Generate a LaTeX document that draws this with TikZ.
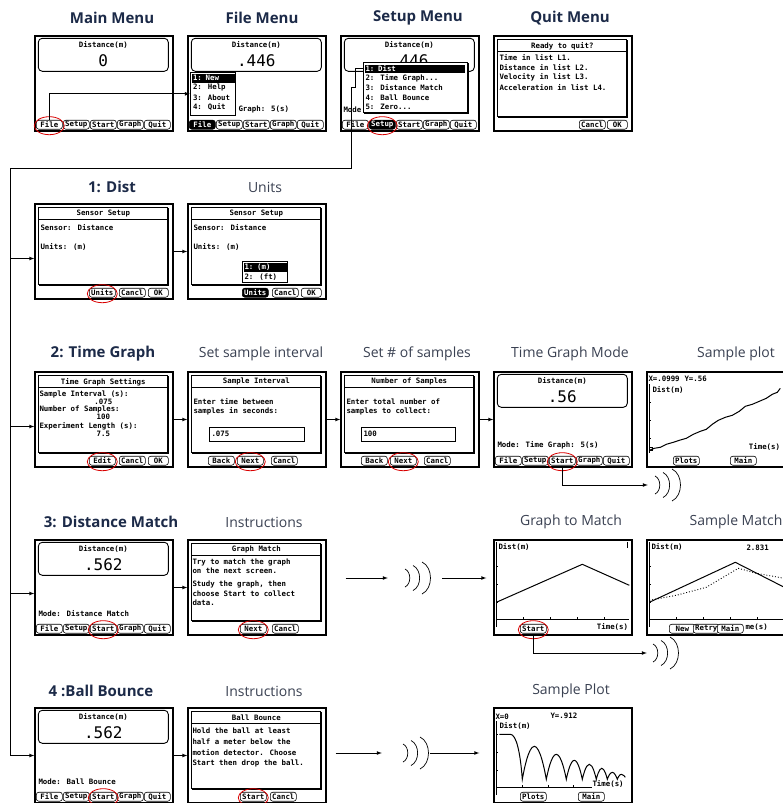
\documentclass[tikz,border=0pt]{standalone}
\usepackage{fontspec}
\setmainfont{Open Sans}
\newfontfamily\calcfont{DejaVu Sans Mono}
\usetikzlibrary{calc}
\definecolor{headblue}{HTML}{1C2A48}
\definecolor{headgray}{HTML}{3A4152}

% display box with the big reading
\newcommand{\readout}[2]{%
  \begin{scope}[shift={(#1.north west)}]
    \draw[panel,rounded corners=4pt] (4,3) rectangle (134,36);
    \node[lcd] (#1cap) at (69,10) {Distance(m)};
    \node[bignum] (#1val) at (69,25) {#2};
  \end{scope}}
% dialog box with a title bar
\newcommand{\dialog}[3]{%
  \begin{scope}[shift={(#1.north west)}]
    \draw[line width=1.8pt] (134,5) -- (134,#3+1) -- (5,#3+1);
    \draw[panel] (4,4) rectangle (133,#3);
    \draw[panel] (4,16) -- (133,16);
    \node[lcd] (#1ttl) at (69,10.5) {#2};
  \end{scope}}
% row of soft keys at the bottom of a screen
\newcommand{\softkeys}[2]{%
  \begin{scope}[shift={(#1.south west)}]
    \foreach \kx/\kt/\ks [count=\ki] in {#2}
      \node[\ks] (#1k\ki) at (\kx,-7) {\kt};
  \end{scope}}
% sound waves
\newcommand{\waves}[1]{%
  \foreach \wx/\wh in {-12/9,-4/12.5,5/16}
    \draw[line width=0.7pt] ([shift={(\wx,-\wh)}]#1.center) to[bend left=65] ([shift={(\wx,\wh)}]#1.center);}

\begin{document}
\begin{tikzpicture}[x=1pt,y=-1pt,node distance=153pt,>=latex]
\tikzstyle{screen}=[draw,line width=1.4pt,minimum width=138pt,minimum height=95pt,inner sep=0pt,fill=white]
\tikzstyle{heading}=[font=\bfseries\fontsize{15}{17}\selectfont,text=headblue]
\tikzstyle{subhead}=[font=\fontsize{14}{16}\selectfont,text=headgray]
\tikzstyle{lcd}=[font=\calcfont\bfseries\fontsize{7.4}{8}\selectfont,inner sep=0pt]
\tikzstyle{bignum}=[font=\calcfont\fontsize{16}{18}\selectfont,inner sep=0pt]
\tikzstyle{softkey}=[lcd,draw,line width=0.6pt,rounded corners=2.5pt,fill=white,minimum width=26pt,minimum height=9pt]
\tikzstyle{keyon}=[softkey,fill=black,text=white]
\tikzstyle{shortkey}=[softkey,minimum width=20pt]
\tikzstyle{panel}=[line width=0.9pt]
\tikzstyle{popup}=[draw,line width=0.9pt,fill=white,inner sep=0pt]
\tikzstyle{pick}=[lcd,fill=black,text=white,anchor=west,inner xsep=1pt,minimum height=8.5pt]
\tikzstyle{ring}=[red!85!black,line width=0.8pt]
\tikzstyle{link}=[->,line width=0.7pt]
\tikzstyle{wave}=[minimum width=30pt,minimum height=34pt,inner sep=0pt]
\tikzstyle{axisline}=[line width=0.8pt]
\tikzstyle{trace}=[line width=1pt]
\path[use as bounding box,fill=white] (0,0) rectangle (783,803);

%First Row
\node[screen] (s11) at (104,83.5) {};
\node[screen,right of=s11] (s12) {};
\node[screen,right of=s12] (s13) {};
\node[screen,right of=s13] (s14) {};
%Second Row
\node[screen,node distance=168pt,below of=s11] (s21) {};
\node[screen,right of=s21] (s22) {};
%Third Row
\node[screen,node distance=168pt,below of=s21] (s31) {};
\node[screen,right of=s31] (s32) {};
\node[screen,right of=s32] (s33) {};
\node[screen,right of=s33] (s34) {};
\node[screen,right of=s34] (s35) {};
%Fourth Row
\node[screen,node distance=168pt,below of=s31] (s41) {};
\node[screen,right of=s41] (s42) {};
\node[screen,node distance=306pt,right of=s42] (s44) {};
\node[screen,right of=s44] (s45) {};
%Fifth Row
\node[screen,node distance=168pt,below of=s41] (s51) {};
\node[screen,right of=s51] (s52) {};
\node[screen,node distance=306pt,right of=s52] (s54) {};

%Titles
\node[heading] (t11) at (112,18) {Main Menu};
\node[heading] (t12) at (262,18) {File Menu};
\node[heading] (t13) at (418,18) {Setup Menu};
\node[heading] (t14) at (570,18) {Quit Menu};
\node[heading] (t21) at (112,187) {1: Dist};
\node[subhead] (t22) at (265,187) {Units};
\node[heading] (t31) at (103,354) {2: Time Graph};
\node[subhead] (t32) at (261,354) {Set sample interval};
\node[subhead] (t33) at (417,354) {Set \# of samples};
\node[subhead] (t34) at (570,354) {Time Graph Mode};
\node[subhead] (t35) at (736,354) {Sample plot};
\node[heading] (t41) at (111,522) {3: Distance Match};
\node[subhead] (t42) at (264,522) {Instructions};
\node[subhead] (t44) at (571,522) {Graph to Match};
\node[subhead] (t45) at (736,522) {Sample Match};
\node[heading] (t51) at (101,691) {4 :Ball Bounce};
\node[subhead] (t52) at (264,691) {Instructions};
\node[subhead] (t54) at (571,691) {Sample Plot};

%Main Menu
\readout{s11}{0}
\softkeys{s11}{15/File/softkey,42/Setup/softkey,69/Start/softkey,96/Graph/softkey,123/Quit/softkey}
\draw[ring] ($(s11k1)+(0,1)$) ellipse [x radius=15,y radius=9];

%File Menu
\readout{s12}{.446}
\begin{scope}[shift={(s12.north west)}]
  \node[lcd,anchor=west] (s12mode) at (51,74) {Graph: 5(s)};
  \node[popup,minimum width=45pt,minimum height=43pt] (s12menu) at (25.5,58.5) {};
  \node[pick,text width=41pt] (s12i1) at (4.5,43) {1: New};
  \node[lcd,anchor=west] (s12i2) at (5.5,52.5) {2: Help};
  \node[lcd,anchor=west] (s12i3) at (5.5,62) {3: About};
  \node[lcd,anchor=west] (s12i4) at (5.5,71.5) {4: Quit};
\end{scope}
\softkeys{s12}{15/File/keyon,42/Setup/softkey,69/Start/softkey,96/Graph/softkey,123/Quit/softkey}
\draw[link] (s11k1.north) |- (s12menu.west);

%Setup Menu
\readout{s13}{.446}
\begin{scope}[shift={(s13.north west)}]
  \node[lcd,anchor=west] (s13mode) at (3,74) {Mode};
  \draw[line width=1.8pt] (128,28) -- (128,78) -- (24,78);
  \node[popup,minimum width=104pt,minimum height=50pt] (s13menu) at (75,52) {};
  \node[pick,text width=98pt] (s13i1) at (24,33.5) {1: Dist};
  \node[lcd,anchor=west] (s13i2) at (25,43) {2: Time Graph...};
  \node[lcd,anchor=west] (s13i3) at (25,52.5) {3: Distance Match};
  \node[lcd,anchor=west] (s13i4) at (25,62) {4: Ball Bounce};
  \node[lcd,anchor=west] (s13i5) at (25,71.5) {5: Zero...};
\end{scope}
\softkeys{s13}{15/File/softkey,42/Setup/keyon,69/Start/softkey,96/Graph/softkey,123/Quit/softkey}
\draw[ring] ($(s13k2)+(0,1)$) ellipse [x radius=15,y radius=9];

%Quit Menu
\dialog{s14}{Ready to quit?}{81}
\begin{scope}[shift={(s14.north west)}]
  \node[lcd,anchor=west] (s14l1) at (6,22) {Time in list L1.};
  \node[lcd,anchor=west] (s14l2) at (6,32) {Distance in list L2.};
  \node[lcd,anchor=west] (s14l3) at (6,42) {Velocity in list L3.};
  \node[lcd,anchor=west] (s14l4) at (6,52) {Acceleration in list L4.};
\end{scope}
\softkeys{s14}{99/Cancl/softkey,124/OK/shortkey}

%Setup bus to the rows
\coordinate (bus) at (10,168);
\coordinate (in2) at ([yshift=-7pt]s21.west);
\coordinate (in3) at ([yshift=-7pt]s31.west);
\coordinate (in4) at ([yshift=-6pt]s41.west);
\draw[link] (s13i1.west) -- ++(-9,0) -- ++(0,19) -- ++(-4,0) |- (bus) |- (s51.west);
\draw[link] (bus |- in2) -- (in2);
\draw[link] (bus |- in3) -- (in3);
\draw[link] (bus |- in4) -- (in4);

%Sensor setup
\dialog{s21}{Sensor Setup}{81}
\begin{scope}[shift={(s21.north west)}]
  \node[lcd,anchor=west] (s21l1) at (6,24) {Sensor: Distance};
  \node[lcd,anchor=west] (s21l2) at (6,44) {Units: (m)};
\end{scope}
\softkeys{s21}{68/Units/softkey,98/Cancl/softkey,124/OK/shortkey}
\draw[ring] ($(s21k1)+(0,1)$) ellipse [x radius=15,y radius=9];
\draw[link] (s21) -- (s22);

\dialog{s22}{Sensor Setup}{81}
\begin{scope}[shift={(s22.north west)}]
  \node[lcd,anchor=west] (s22l1) at (6,24) {Sensor: Distance};
  \node[lcd,anchor=west] (s22l2) at (6,44) {Units: (m)};
  \node[popup,minimum width=45pt,minimum height=21pt] (s22menu) at (77.5,69) {};
  \node[pick,text width=41pt] (s22i1) at (56,64) {1: (m)};
  \node[lcd,anchor=west] (s22i2) at (57,74) {2: (ft)};
\end{scope}
\softkeys{s22}{68/Units/keyon,98/Cancl/softkey,124/OK/shortkey}

%Time graph settings
\dialog{s31}{Time Graph Settings}{81}
\begin{scope}[shift={(s31.north west)}]
  \node[lcd,anchor=west] (s31l1) at (5,23) {Sample Interval (s):};
  \node[lcd] (s31v1) at (69,30.5) {.075};
  \node[lcd,anchor=west] (s31l2) at (5,38.5) {Number of Samples:};
  \node[lcd] (s31v2) at (69,46) {100};
  \node[lcd,anchor=west] (s31l3) at (5,55) {Experiment Length (s):};
  \node[lcd] (s31v3) at (69,62.5) {7.5};
\end{scope}
\softkeys{s31}{68/Edit/softkey,98/Cancl/softkey,124/OK/shortkey}
\draw[ring] ($(s31k1)+(0,1)$) ellipse [x radius=15,y radius=9];
\draw[link] (s31) -- (s32);

\dialog{s32}{Sample Interval}{81}
\begin{scope}[shift={(s32.north west)}]
  \node[lcd,anchor=west] (s32l1) at (6,30) {Enter time between};
  \node[lcd,anchor=west] (s32l2) at (6,40) {samples in seconds:};
  \node[draw,line width=0.8pt,minimum width=95pt,minimum height=14pt,inner sep=0pt] (s32box) at (69.5,63) {};
  \node[lcd,anchor=west] (s32in) at (24,63) {.075};
\end{scope}
\softkeys{s32}{34/Back/softkey,63/Next/softkey,97/Cancl/softkey}
\draw[ring] ($(s32k2)+(0,1)$) ellipse [x radius=15,y radius=9];
\draw[link] (s32) -- (s33);

\dialog{s33}{Number of Samples}{81}
\begin{scope}[shift={(s33.north west)}]
  \node[lcd,anchor=west] (s33l1) at (6,30) {Enter total number of};
  \node[lcd,anchor=west] (s33l2) at (6,40) {samples to collect:};
  \node[draw,line width=0.8pt,minimum width=94pt,minimum height=14pt,inner sep=0pt] (s33box) at (68,63) {};
  \node[lcd,anchor=west] (s33in) at (23,63) {100};
\end{scope}
\softkeys{s33}{34/Back/softkey,63/Next/softkey,97/Cancl/softkey}
\draw[ring] ($(s33k2)+(0,1)$) ellipse [x radius=15,y radius=9];
\draw[link] (s33) -- (s34);

%Time graph mode
\readout{s34}{.56}
\begin{scope}[shift={(s34.north west)}]
  \node[lcd,anchor=west] (s34mode) at (4,74) {Mode: Time Graph: 5(s)};
\end{scope}
\softkeys{s34}{15/File/softkey,42/Setup/softkey,69/Start/softkey,96/Graph/softkey,123/Quit/softkey}
\draw[ring] ($(s34k3)+(0,1)$) ellipse [x radius=15,y radius=9];
\node[wave] (w3) at (667,485) {};
\waves{w3}
\draw[link,shorten >=4pt] (s34k3.south) |- (w3.west);

%Sample plot
\begin{scope}[shift={(s35.north west)}]
  \node[lcd,anchor=west] (s35x) at (2,8) {X=.0999};
  \node[lcd,anchor=west] (s35y) at (38,8) {Y=.56};
  \node[lcd,anchor=west] (s35lab) at (6,19) {Dist(m)};
  \draw[axisline] (3,13) -- (3,82);
  \foreach \ty in {31,49,67} \draw (3,\ty) -- (5,\ty);
  \draw[trace] plot coordinates {(3,79) (8,77) (14,76) (20,73) (27,71) (33,69) (40,67) (47,63) (54,60) (60,58) (66,53) (72,49) (79,46) (86,44) (93,40) (99,35) (106,33) (113,30) (120,27) (126,23) (131,21) (134,17)};
  \draw[line width=0.8pt] (3,76) rectangle (6,79);
  \node[lcd,anchor=east] (s35t) at (134,76) {Time(s)};
\end{scope}
\softkeys{s35}{40/Plots/softkey,97/Main/softkey}

%Distance match
\readout{s41}{.562}
\begin{scope}[shift={(s41.north west)}]
  \node[lcd,anchor=west] (s41mode) at (4,74) {Mode: Distance Match};
\end{scope}
\softkeys{s41}{15/File/softkey,42/Setup/softkey,69/Start/softkey,96/Graph/softkey,123/Quit/softkey}
\draw[ring] ($(s41k3)+(0,1)$) ellipse [x radius=15,y radius=9];
\draw[link] (s41) -- (s42);

\dialog{s42}{Graph Match}{81}
\begin{scope}[shift={(s42.north west)}]
  \node[lcd,anchor=west] (s42l1) at (5,23) {Try to match the graph};
  \node[lcd,anchor=west] (s42l2) at (5,31.5) {on the next screen.};
  \node[lcd,anchor=west] (s42l3) at (5,45) {Study the graph, then};
  \node[lcd,anchor=west] (s42l4) at (5,54) {choose Start to collect};
  \node[lcd,anchor=west] (s42l5) at (5,63) {data.};
\end{scope}
\softkeys{s42}{66/Next/softkey,98/Cancl/softkey}
\draw[ring] ($(s42k1)+(0,1)$) ellipse [x radius=15,y radius=9];
\node[wave] (w4) at (417,578) {};
\waves{w4}
\draw[link,shorten <=19pt,shorten >=14pt] (s42.east |- w4.west) -- (w4.west);
\draw[link,shorten <=10pt,shorten >=7pt] (w4.east) -- (s44.west |- w4.east);

%Graph to match
\begin{scope}[shift={(s44.north west)}]
  \node[lcd,anchor=west] (s44lab) at (5,8) {Dist(m)};
  \draw[axisline] (3,3) -- (3,88);
  \draw[axisline] (3,80) -- (136,80);
  \foreach \tx in {30,57,84,111} \draw (\tx,80) -- (\tx,78);
  \foreach \ty in {27,45,63} \draw (3,\ty) -- (5,\ty);
  \draw[axisline] (134,3) -- (134,9);
  \draw[trace] (3,63) -- (89,25) -- (136,46);
  \node[lcd,anchor=east] (s44t) at (135,88) {Time(s)};
\end{scope}
\softkeys{s44}{40/Start/softkey}
\draw[ring] ($(s44k1)+(0,1)$) ellipse [x radius=15,y radius=9];
\node[wave] (w4b) at (665,653) {};
\waves{w4b}
\draw[link,shorten >=3pt] (s44k1.south) |- (w4b.west);

%Sample match
\begin{scope}[shift={(s45.north west)}]
  \node[lcd,anchor=west] (s45lab) at (5,8) {Dist(m)};
  \node[lcd,anchor=west] (s45r) at (100,8) {2.831};
  \draw[axisline] (3,3) -- (3,88);
  \draw[axisline] (3,80) -- (138,80);
  \foreach \tx in {30,57,84,111} \draw (\tx,80) -- (\tx,78);
  \foreach \ty in {27,45,63} \draw (3,\ty) -- (5,\ty);
  \draw[trace] (3,63) -- (89,23) -- (138,48);
  \draw[line width=0.9pt,dotted] (3,61) -- (30,56) -- (60,48) -- (92,29) -- (110,34) -- (138,39);
  \node[lcd,anchor=west] (s45t) at (99,88) {me(s)};
\end{scope}
\softkeys{s45}{36/New/softkey,60/Retry/softkey,84/Main/softkey}

%Ball bounce
\readout{s51}{.562}
\begin{scope}[shift={(s51.north west)}]
  \node[lcd,anchor=west] (s51mode) at (4,74) {Mode: Ball Bounce};
\end{scope}
\softkeys{s51}{15/File/softkey,42/Setup/softkey,69/Start/softkey,96/Graph/softkey,123/Quit/softkey}
\draw[ring] ($(s51k3)+(0,1)$) ellipse [x radius=15,y radius=9];
\draw[link] (s51) -- (s52);

\dialog{s52}{Ball Bounce}{81}
\begin{scope}[shift={(s52.north west)}]
  \node[lcd,anchor=west] (s52l1) at (5,23) {Hold the ball at least};
  \node[lcd,anchor=west] (s52l2) at (5,34) {half a meter below the};
  \node[lcd,anchor=west] (s52l3) at (5,45) {motion detector. Choose};
  \node[lcd,anchor=west] (s52l4) at (5,56) {Start then drop the ball.};
\end{scope}
\softkeys{s52}{66/Start/softkey,96/Cancl/softkey}
\draw[ring] ($(s52k1)+(0,1)$) ellipse [x radius=15,y radius=9];
\node[wave] (w5) at (415,753) {};
\waves{w5}
\draw[link,shorten <=9pt,shorten >=18pt] (s52.east |- w5.west) -- (w5.west);
\draw[link,shorten >=14pt] (w5.east) -- (s54.west |- w5.east);

%Bounce plot
\begin{scope}[shift={(s54.north west)}]
  \node[lcd,anchor=west] (s54x) at (2,9) {X=0};
  \node[lcd,anchor=west] (s54y) at (57,9) {Y=.912};
  \node[lcd,anchor=west] (s54lab) at (6,19) {Dist(m)};
  \draw[axisline] (3,14) -- (3,88);
  \draw[axisline] (3,80) -- (99,80);
  \foreach \tx in {29,55,80} \draw (\tx,80) -- (\tx,78);
  \foreach \ty in {27,45,63} \draw (3,\ty) -- (5,\ty);
  \draw[trace] (6,27) -- (17,27) .. controls (23,27) and (27,45) .. (29,72)
    parabola bend (41,39) (53,72) parabola bend (63,47) (73,72)
    parabola bend (81,53) (89,72) parabola bend (96,57) (103,72)
    parabola bend (108.5,61) (114,72) parabola bend (119,65) (124,72)
    parabola bend (128,67) (132,70);
  \node[lcd,anchor=west] (s54t) at (99,77) {Time(s)};
\end{scope}
\softkeys{s54}{40/Plots/softkey,98/Main/softkey}
\end{tikzpicture}
\end{document}
